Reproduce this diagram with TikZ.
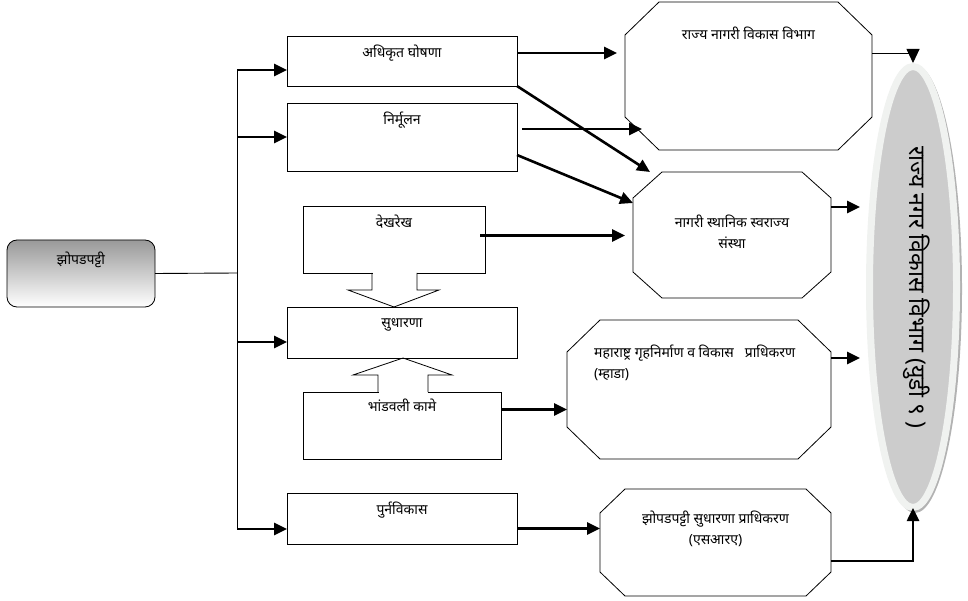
\documentclass[tikz,border=0pt]{standalone}
\usepackage{fontspec}
\newfontfamily\deva[Script=Devanagari]{Noto Sans}
\usetikzlibrary{arrows.meta, positioning, calc, shapes.geometric}

\definecolor{rim}{HTML}{F0F2F0}

% octagon round a (plain) node: name, cut in x, cut in y
\newcommand{\drawoct}[3]{%
  \draw[line width=0.8pt]
    ($(#1.north west)+(#2,0)$) -- ($(#1.north east)+(-#2,0)$) -- ($(#1.north east)+(0,#3)$)
    -- ($(#1.south east)+(0,-#3)$) -- ($(#1.south east)+(-#2,0)$) -- ($(#1.south west)+(#2,0)$)
    -- ($(#1.south west)+(0,-#3)$) -- ($(#1.north west)+(0,#3)$) -- cycle;}

\begin{document}
\begin{tikzpicture}[
  x=1pt, y=-1pt,
  font=\deva\fontsize{14}{21}\selectfont,
  box/.style     = {draw, line width=0.8pt, rectangle, inner sep=0pt, outer sep=0pt},
  oct/.style     = {rectangle, inner sep=0pt, outer sep=0pt},
  lbl/.style     = {inner sep=0pt, align=center},
  arr/.style     = {-{Triangle[length=13pt, width=12pt]}, line width=2.6pt},
  thinarr/.style = {-{Triangle[length=14pt, width=13pt]}, line width=0.9pt},
  blk/.style     = {draw, line width=0.8pt},
]
  \useasboundingbox (0,0) rectangle (968,601);

  % left
  \node[box, rounded corners=10pt, top color=gray!80, bottom color=white,
        minimum width=148pt, minimum height=67pt]          (zp)    at (81,273.5) {};
  \node[lbl]                                              (zpT)   at ($(zp.north)+(0,20)$) {झोपडपट्टी};

  % middle column
  \node[box, minimum width=230pt, minimum height=50pt]    (adh)   at (402,61) {};
  \node[box, minimum width=230pt, minimum height=68pt]    (nirm)  at (402,137) {};
  \node[box, minimum width=182pt, minimum height=67pt]    (dekh)  at (394,239.5) {};
  \node[box, minimum width=230pt, minimum height=51pt]    (sudh)  at (402,332.5) {};
  \node[box, minimum width=198pt, minimum height=67pt]    (bhand) at (402,425.5) {};
  \node[box, minimum width=230pt, minimum height=51pt]    (punar) at (402,518.5) {};

  \node[lbl] (adhT)   at ($(adh.north)+(0,17)$)   {अधिकृत घोषणा};
  \node[lbl] (nirmT)  at ($(nirm.north)+(0,17)$)  {निर्मूलन};
  \node[lbl] (dekhT)  at ($(dekh.north)+(0,16)$)  {देखरेख};
  \node[lbl] (sudhT)  at ($(sudh.north)+(0,18)$)  {सुधारणा};
  \node[lbl] (bhandT) at ($(bhand.north)+(0,13)$) {भांडवली कामे};
  \node[lbl] (punarT) at ($(punar.north)+(0,17)$) {पुर्नविकास};

  % block arrows into sudh
  \coordinate (dk) at (dekh.south);
  \fill[white] ($(dk)+(-21.5,-1)$) rectangle ($(dk)+(22.5,1)$);
  \draw[blk] ($(dk)+(-22,0)$) -- ++(0,17) -- ++(-24,0) -- ++(46,17) -- ++(45,-17) -- ++(-22,0) -- ++(0,-17);
  \coordinate (bn) at (bhand.north);
  \fill[white] ($(bn)+(-23.5,-1)$) rectangle ($(bn)+(25.5,1)$);
  \draw[blk] ($(bn)+(-24,0)$) -- ++(0,-17) -- ++(-25,0) -- ++(50,-17) -- ++(49,17) -- ++(-24,0) -- ++(0,17);

  % right column
  \node[oct, minimum width=247pt, minimum height=148pt]   (rnv)   at (748.5,76) {};
  \node[oct, minimum width=198pt, minimum height=126pt]   (nss)   at (732,235) {};
  \node[oct, minimum width=264pt, minimum height=139pt]   (mhada) at (699,389.5) {};
  \node[oct, minimum width=231pt, minimum height=107pt]   (sra)   at (715.5,542.5) {};
  \drawoct{rnv}{34}{33}
  \drawoct{nss}{29}{26}
  \drawoct{mhada}{33}{32}
  \drawoct{sra}{25}{24}

  \node[lbl]                          (rnvT)   at ($(rnv.north)+(0,31)$)    {राज्य नागरी विकास विभाग};
  \node[lbl]                          (nssT)   at ($(nss.center)+(0,-3)$)   {नागरी स्थानिक स्वराज्य\\संस्था};
  \node[lbl, align=left, anchor=west] (mhadaT) at ($(mhada.west)+(27,-27)$) {महाराष्ट्र गृहनिर्माण व विकास\ \ \ प्राधिकरण\\(म्हाडा)};
  \node[lbl]                          (sraT)   at ($(sra.north)+(0,39.5)$)  {झोपडपट्टी सुधारणा प्राधिकरण\\(एसआरए)};

  % ellipse
  \fill[gray!60] (915,289) ellipse [x radius=47pt, y radius=224pt];
  \node[ellipse, draw=rim, line width=7pt, fill=gray!40, inner sep=0pt,
        minimum width=87pt, minimum height=441pt]        (ell)   at (913,287) {};
  \node[lbl, rotate=-90, font=\deva\fontsize{23}{26}\selectfont] (ellT) at ($(ell.center)+(4,0)$)
        {राज्य नगर विकास विभाग (युडी ९ )};

  % trunk
  \coordinate (tr) at (237,273);
  \coordinate (t1) at (237,70);
  \coordinate (t2) at (237,137);
  \coordinate (t3) at (237,342);
  \coordinate (t4) at (237,529);
  \draw[line width=0.9pt] (zp.east) -- (tr);
  \draw[line width=0.9pt] (t1) -- (t4);
  \foreach \t/\b in {t1/adh, t2/nirm, t3/sudh, t4/punar}
    \draw[arr] (\t) -- (\t -| \b.west);

  % to the agencies
  \coordinate (a1) at ($(adh.east)+(0,-8)$);
  \coordinate (n1) at ($(nirm.east)+(5,-8)$);
  \coordinate (d1) at ($(dekh.east)+(-5,-4)$);
  \coordinate (b1) at ($(bhand.east)+(0,-16)$);
  \coordinate (p1) at ($(punar.east)+(0,10)$);
  \draw[arr, shorten >=8pt] (a1) -- (a1 -| rnv.west);
  \draw[arr] (adh.south east) -- ($(nss.north west)+(17,0)$);
  \draw[arr] (n1) -- ($(n1 -| rnv.west)+(17,0)$);
  \draw[arr] ($(nirm.east)+(0,18)$) -- ($(nss.west)+(0,-32)$);
  \draw[arr, shorten >=8pt] (d1) -- (d1 -| nss.west);
  \draw[arr] (b1) -- (b1 -| mhada.west);
  \draw[arr] (p1) -- (p1 -| sra.west);

  % to the department
  \coordinate (r1) at ($(rnv.east)+(0,-23)$);
  \coordinate (s1) at ($(nss.east)+(0,-28)$);
  \coordinate (m1) at ($(mhada.east)+(0,-31.5)$);
  \coordinate (q1) at ($(sra.east)+(0,18.5)$);
  \draw[thinarr] (r1) -| (ell.north);
  \draw[arr, shorten >=6pt] (s1) -- (s1 -| ell.west);
  \draw[arr, shorten >=6pt] (m1) -- (m1 -| ell.west);
  \draw[arr, shorten >=-3pt] (q1) -| (ell.south);
\end{tikzpicture}
\end{document}
